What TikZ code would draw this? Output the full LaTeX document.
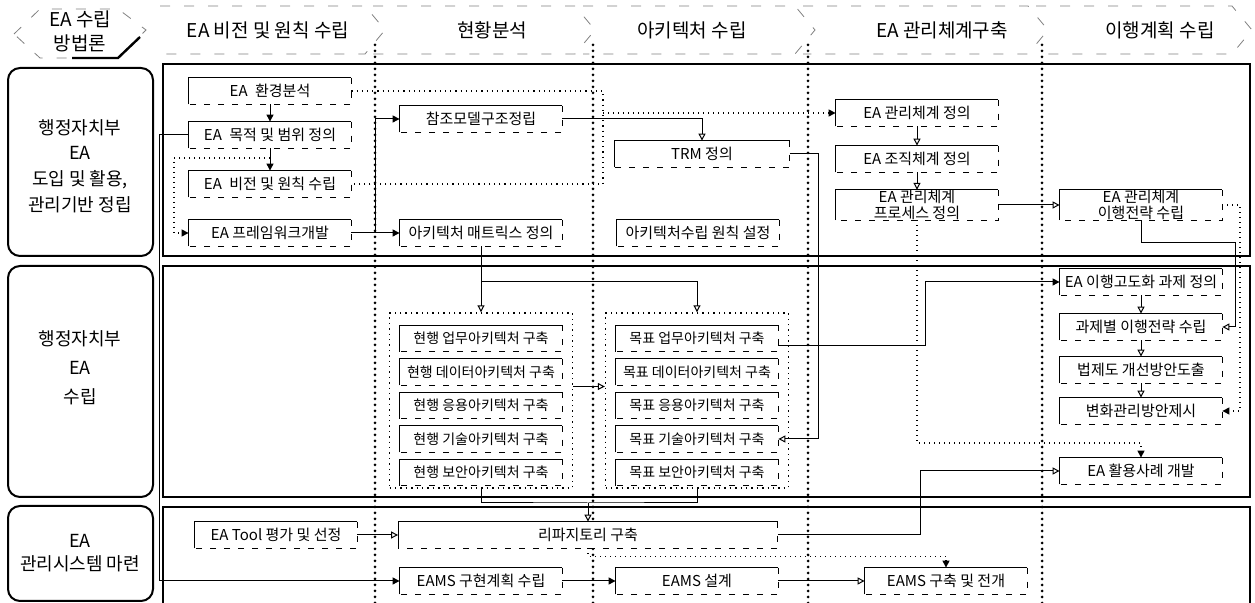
\documentclass[tikz,border=0pt]{standalone}
\usepackage{fontspec}
\setmainfont{Noto Sans CJK KR}
\usetikzlibrary{arrows.meta}

\tikzstyle{task} = [rectangle,fill=white,minimum width=81pt,minimum height=13pt,inner sep=1pt,align=center]
\tikzstyle{subtask} = [task,font=\fontsize{7}{8}\selectfont]
\tikzstyle{groupbox} = [rectangle,draw,dotted,line width=0.7pt,minimum width=91.5pt,minimum height=87.5pt]
\tikzstyle{rowlabel} = [rectangle,draw,rounded corners=6pt,line width=1pt,minimum width=72.5pt]
\tikzstyle{labeltext} = [align=center,font=\fontsize{9}{12.8}\selectfont]
\tikzstyle{phase} = [font=\fontsize{9.5}{11}\selectfont]
\tikzstyle{divider} = [line width=1.5pt,dash pattern=on 0pt off 3pt,line cap=round]
\tikzstyle{chevron} = [draw=black!50,line width=0.4pt,dash pattern=on 5pt off 7pt]
\tikzstyle{arr} = [-{Triangle[open,length=3.5pt,width=3.5pt]},line width=0.5pt]
\tikzstyle{farr} = [-{Triangle[length=3.5pt,width=3.5pt]},line width=0.5pt]
\tikzstyle{dotarr} = [farr,dotted,line width=0.6pt]
\tikzstyle{every node}=[font=\fontsize{7.5}{9}\selectfont]

\newcommand{\taskframe}[1]{%
  \draw[line width=0.5pt] (#1.south west) |- (#1.north east);
  \draw[line width=0.5pt,dash pattern=on 3pt off 4pt] (#1.north east) |- (#1.south west);}

\begin{document}
\begin{tikzpicture}[x=0.5pt,y=-0.5pt]
    \useasboundingbox (0,0) rectangle (1255,603);
    % phases
    \draw[chevron] (14,34) -- (40,9) -- (118,9) -- (146,30) -- (118,58) -- (40,58) -- cycle;
    \draw[line width=1.2pt] (72,58) -- (118,58) -- (140,37);
    \node[phase] (meth1) at (80,19) {EA 수립};
    \node[phase] (meth2) at (80,43) {방법론};
    \foreach \a/\b in {160/385,373/595,583/815,803/1048,1036/1252}
    {\draw[chevron] (\a,6) -- (\b-20,6) -- (\b,30) -- (\b-20,54) -- (\a,54);}
    \node[phase] (ph1) at (268,30) {EA 비전 및 원칙 수립};
    \node[phase] (ph2) at (492,30) {현황분석};
    \node[phase] (ph3) at (692,30) {아키텍처 수립};
    \node[phase] (ph4) at (942,30) {EA 관리체계구축};
    \node[phase] (ph5) at (1160,30) {이행계획 수립};
    % rows
    \node[rowlabel,minimum height=94pt] (lab1) at (80.5,162) {};
    \node[labeltext] (lab1t) at (80,166) {행정자치부\\EA\\도입 및 활용,\\관리기반 정립};
    \node[rowlabel,minimum height=115.5pt] (lab2) at (80.5,381.5) {};
    \node[labeltext,font=\fontsize{9}{14.5}\selectfont] (lab2t) at (80,368) {행정자치부\\EA\\수립};
    \node[rowlabel,minimum height=47.5pt] (lab3) at (80.5,553.5) {};
    \node[labeltext,font=\fontsize{9}{11.5}\selectfont] (lab3t) at (80,553) {EA\\관리시스템 마련};
    \draw[line width=0.6pt] (163,64) rectangle (1250,256);
    \draw[line width=0.6pt] (163,266) rectangle (1250,497);
    \draw[line width=0.6pt] (163,603) |- (1250,507) -- (1250,603);
    \foreach \x in {375,593,808,1042}
    {\draw[divider] (\x,45) -- (\x,603);}
    % row 1
    \node[task] (env) at (270,91) {EA\enspace 환경분석};
    \node[task] (purp) at (270,135) {EA\enspace 목적 및 범위 정의};
    \node[task] (vis) at (270,184) {EA\enspace 비전 및 원칙 수립};
    \node[task] (fwk) at (270,233) {EA 프레임워크개발};
    \node[task] (refm) at (481,119) {참조모델구조정립};
    \node[task] (mtx) at (481,233) {아키텍처 매트릭스 정의};
    \node[task,minimum width=87.5pt] (trm) at (702,154) {TRM 정의};
    \node[task] (princ) at (698,233) {아키텍처수립 원칙 설정};
    \node[task] (mdef) at (917,113) {EA 관리체계 정의};
    \node[task] (odef) at (917,159) {EA 조직체계 정의};
    \node[task,inner sep=0pt,font=\fontsize{7.5}{8}\selectfont] (pdef) at (917,205) {EA 관리체계\\프로세스 정의};
    \node[task,inner sep=0pt,font=\fontsize{7.5}{8}\selectfont] (istr) at (1141,205) {EA 관리체계\\이행전략 수립};
    % row 2
    \node[groupbox] (curg) at (481,400.5) {};
    \node[groupbox] (tgtg) at (697,400.5) {};
    \foreach \i/\nm in {1/업무,2/데이터,3/응용,4/기술,5/보안}
    {
        \node[subtask] (cur\i) at (481,{305+\i*33.5}) {현행 \nm{}아키텍처 구축};
        \node[subtask] (tgt\i) at (697,{305+\i*33.5}) {목표 \nm{}아키텍처 구축};
        \taskframe{cur\i}
        \taskframe{tgt\i}
    }
    \node[task] (imptask) at (1141,282) {EA 이행고도화 과제 정의};
    \node[task] (plan) at (1141,327) {과제별 이행전략 수립};
    \node[task] (law) at (1141,370) {법제도 개선방안도출};
    \node[task] (chg) at (1141,411) {변화관리방안제시};
    \node[task] (case) at (1141,471) {EA 활용사례 개발};
    % row 3
    \node[task] (tool) at (276,535) {EA Tool 평가 및 선정};
    \node[task,minimum width=189.5pt] (repo) at (588,535) {리파지토리 구축};
    \node[task] (eplan) at (481,581) {EAMS 구현계획 수립};
    \node[task] (edes) at (697,581) {EAMS 설계};
    \node[task] (ebuild) at (946,581) {EAMS 구축 및 전개};
    \foreach \n in {env,purp,vis,fwk,refm,mtx,trm,princ,mdef,odef,pdef,istr,imptask,plan,law,chg,case,tool,repo,eplan,edes,ebuild}
    {\taskframe{\n}}
    % links
    \coordinate (split) at (270,158);
    \coordinate (j1) at (603,184);
    \coordinate (j2) at (375,233);
    \coordinate (j3) at (1235,243);
    \coordinate (j4) at (1240,205);
    \coordinate (j5) at (917,443);
    \coordinate (j6) at (481,282);
    \coordinate (j9) at (588,503);
    \draw[farr] (env) -- (purp);
    \draw[farr] (purp) -- (vis);
    \draw[dotarr] (split) -- ++(-96,0) |- (fwk.west);
    \draw[farr] (fwk) -- (mtx);
    \draw[farr] (j2) |- (refm.west);
    \draw[arr] (refm.east) -| (trm.north);
    \draw[arr] (trm.east) -- ++(29,0) |- (tgt4.east);
    \draw[dotted,line width=0.6pt] (env.east) -| (j1) -- (vis.east);
    \draw[dotarr] (j1 |- mdef.west) -- (mdef.west);
    \draw[arr] (mdef) -- (odef);
    \draw[arr] (odef) -- (pdef);
    \draw[arr] (pdef) -- (istr);
    \draw[arr] (istr.south) |- (j3) |- (plan.east);
    \draw[dotarr] (istr.east) -- (j4) |- (chg.east);
    \draw[dotarr] (pdef.south) -- (j5) -| (case.north);
    \draw[arr] (mtx.south) -- (curg.north);
    \draw[arr] (j6) -| (tgtg.north);
    \draw[arr] ([yshift=7pt]curg.east) -- ([yshift=7pt]tgtg.west);
    \draw[farr] ([yshift=-3.5pt]tgt1.east) -- ++(147,0) |- (imptask.west);
    \draw[arr] (imptask) -- (plan);
    \draw[arr] (plan) -- (law);
    \draw[arr] (law) -- (chg);
    \draw[line width=0.5pt] (curg.south) |- (j9) -| (tgtg.south);
    \draw[arr] (j9) -- (repo.north);
    \draw[arr] (tool) -- (repo);
    \draw[arr] (repo.east) -- ++(143,0) |- (case.west);
    \draw[farr] (purp.west) -- ++(-29,0) |- (eplan.west);
    \draw[farr] (eplan) -- (edes);
    \draw[arr] (edes) -- (ebuild);
    \draw[dotarr] (repo.south) -- ++(0,8) -| (ebuild.north);
\end{tikzpicture}
\end{document}
